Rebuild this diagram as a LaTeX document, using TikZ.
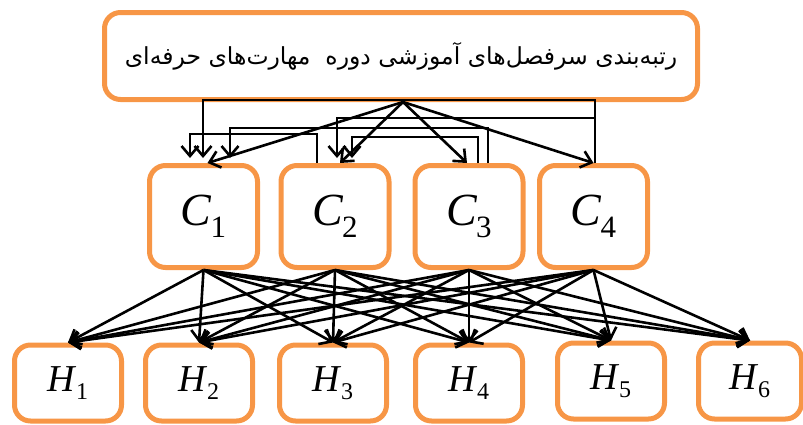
\documentclass[tikz,border=0pt]{standalone}
\usepackage{fontspec}
\setmainfont{Liberation Serif}
\newfontfamily\arabicfont[Script=Arabic]{DejaVu Sans}
\TeXXeTstate=1
\usetikzlibrary{arrows.meta}
\definecolor{boxorange}{HTML}{F79646}
\newcommand\clab[1]{{\fontsize{46}{46}\selectfont\itshape C}\kern-1pt\raisebox{-12pt}{\fontsize{31}{31}\selectfont #1}}
\newcommand\hlab[1]{{\fontsize{38}{38}\selectfont\itshape H}\kern1pt\raisebox{-8pt}{\fontsize{24}{24}\selectfont #1}}
\begin{document}
\begin{tikzpicture}[x=1pt,y=-1pt,
  rbox/.style={draw=boxorange,line width=5pt,rounded corners=16pt,fill=white,inner sep=0pt},
  cbox/.style={rbox,minimum width=108pt,minimum height=102pt},
  hbox/.style={rbox,minimum width=107pt,minimum height=76pt},
  arr/.style={-{Straight Barb[length=10pt,width=17pt,line width=2.6pt]},line width=2.6pt,black},
  barr/.style={arr,line width=2.2pt,shorten >=5pt}]
\useasboundingbox (0,0) rectangle (803,424);
\node[rbox,minimum width=593pt,minimum height=87pt] (top) at (401,56)
  {\arabicfont\fontsize{23.5}{24}\selectfont\raisebox{3pt}{\beginR رتبه‌بندی سرفصل‌های آموزشی دوره\ \ مهارت‌های حرفه‌ای\endR}};
\node[cbox] (C1) at (203.5,216.5) {\clab{1}};
\node[cbox] (C2) at (335,216.5) {\clab{2}};
\node[cbox] (C3) at (469,216.5) {\clab{3}};
\node[cbox] (C4) at (593.5,216.5) {\clab{4}};
\node[hbox] (H1) at (68,383) {\hlab{1}};
\node[hbox] (H2) at (199,383) {\hlab{2}};
\node[hbox] (H3) at (333,383) {\hlab{3}};
\node[hbox] (H4) at (469,383) {\hlab{4}};
\node[hbox] (H5) at (611,381) {\hlab{5}};
\node[hbox,minimum width=103pt] (H6) at (750,381) {\hlab{6}};
% diagonal arrows from the top box
\foreach \c/\s in {C1/4,C2/5,C3/-2,C4/0}
  \draw[arr] ([xshift=2pt]top.south) -- ([xshift=\s pt]\c.north);
% bracket connectors
\draw[barr] ([xshift=1.5pt]C4.north) -- ++(0,-63) -| ([xshift=-0.5pt]C1.north);
\draw[barr] ([xshift=1.5pt]C4.north) -- ++(0,-45) -| ([xshift=2pt]C2.north);
\draw[barr] ([xshift=19pt]C3.north) -- ++(0,-35) -| ([xshift=26.5pt]C1.north);
\draw[barr] ([xshift=-18pt]C2.north) -- ++(0,-29) -| ([xshift=-13.5pt]C1.north);
\draw[barr] ([xshift=9pt]C3.north) -- ++(0,-26) -| ([xshift=17pt]C2.north);
% C to H arrows
\foreach \c in {C1,C2,C3,C4}
  \foreach \h in {H1,H2,H3,H4,H5,H6}
    \draw[arr] (\c.south) -- (\h.north);
\end{tikzpicture}
\end{document}
